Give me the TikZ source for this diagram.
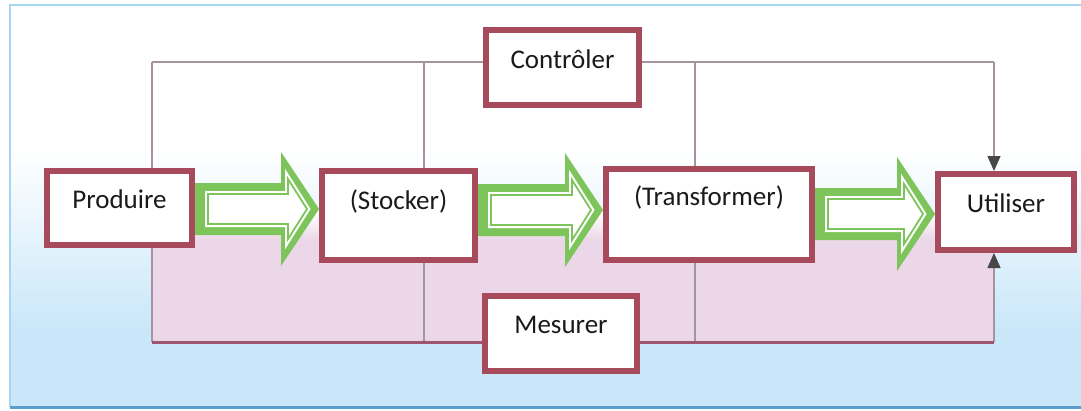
\documentclass[tikz,border=0pt]{standalone}
\usepackage{fontspec}
\setmainfont{Carlito}
\usepackage{tikz}
\usetikzlibrary{arrows.meta,calc}
\definecolor{boxred}{HTML}{A64A5C}
\definecolor{flowgreen}{HTML}{7DC45A}
\definecolor{pinkzone}{HTML}{EBD7E8}
\definecolor{pinkedge}{HTML}{9C5670}
\definecolor{wire}{HTML}{A5939F}
\definecolor{tipgray}{HTML}{474747}
\definecolor{framelight}{HTML}{A6D6EE}
\definecolor{framedark}{HTML}{5A9BD0}
\definecolor{skyblue}{HTML}{C9E7F9}
\definecolor{ink}{HTML}{1A1A1A}

\tikzset{
  box/.style={draw=boxred,line width=6pt,fill=white,text=ink,inner sep=0pt,
    font=\fontsize{27}{32}\selectfont,text height=18pt},
  wireline/.style={draw=wire,line width=1.3pt},
  feed/.style={wireline,-{Triangle[width=13pt,length=15pt,color=tipgray]}},
  flowcore/.style={draw=white,line width=6pt,
    postaction={fill=white,draw=none},
    postaction={draw=flowgreen,line width=1.8pt}}
}

% hollow block arrow between two boxes, centred on height #3
\newcommand{\flowarrow}[3]{%
  \fill[flowgreen] let \p1=(#1.east |- 0,#3), \p2=(#2.west |- 0,#3) in
    (\x1,\y1+26pt) -- (\x2-38pt,\y1+26pt) -- (\x2-38pt,\y1+57pt) -- (\x2,\y1)
    -- (\x2-38pt,\y1-57pt) -- (\x2-38pt,\y1-26pt) -- (\x1,\y1-26pt) -- cycle;
  \path[flowcore] let \p1=(#1.east |- 0,#3), \p2=(#2.west |- 0,#3) in
    (\x1+13pt,\y1+15pt) -- (\x2-31pt,\y1+15pt) -- (\x2-31pt,\y1+30pt) -- (\x2-12pt,\y1)
    -- (\x2-31pt,\y1-30pt) -- (\x2-31pt,\y1-15pt) -- (\x1+13pt,\y1-15pt) -- cycle;}

\begin{document}
\begin{tikzpicture}[x=1pt,y=-1pt]
  \useasboundingbox (0,0) rectangle (1081,410);
  \clip (0,0) rectangle (1081,410);
  % background panel
  \fill[white] (10,5) rectangle (1090,150);
  \shade[top color=white,bottom color=skyblue] (10,150) rectangle (1090,330);
  \fill[skyblue] (10,330) rectangle (1090,407);
  \draw[framelight,line width=1.5pt] (1090,5) -- (10,5) -- (10,407);
  \draw[framedark,line width=3pt] (10,407) -- (1090,407);
  \shade[top color=white,bottom color=pinkzone] (152,212) rectangle (994,240);
  \fill[pinkzone] (152,240) rectangle (994,342);

  \coordinate (tl) at (152,62);
  \coordinate (tr) at (994,62);
  \coordinate (bl) at (152,342);
  \coordinate (br) at (994,342);

  % boxes
  \node[box,minimum width=145pt,minimum height=74pt,text depth=18pt] (prod) at (119.5,208) {Produire};
  \node[box,minimum width=153pt,minimum height=89pt,text depth=31pt] (stock) at (398.5,215.5) {(Stocker)};
  \node[box,minimum width=206pt,minimum height=91pt,text depth=37pt] (trans) at (709,214.5) {(Transformer)};
  \node[box,minimum width=136pt,minimum height=76pt,text depth=18pt] (util) at (1006,212) {Utiliser};
  \node[box,minimum width=153pt,minimum height=75pt,text depth=17pt] (ctrl) at (562.5,67.5) {Contrôler};
  \node[box,minimum width=152pt,minimum height=75pt,text depth=19pt] (meas) at (561,333.5) {Mesurer};

  % control bus on top
  \draw[wireline] (tl -| ctrl.west) -- (tl);
  \draw[wireline] (ctrl.east |- tr) -- (tr);
  \foreach \x/\n in {152/prod,424/stock,695/trans}
    \draw[wireline] (\x,62) -- (\x,62 |- \n.north);
  \draw[feed] (tr) -- (tr |- util.north);

  % measurement bus below
  \foreach \x/\n in {152/prod,424/stock,695/trans}
    \draw[wireline] (\x,342) -- (\x,342 |- \n.south);
  \draw[feed] (br) -- (br |- util.south);
  \draw[pinkedge,line width=3pt] (bl) -- (bl -| meas.west);
  \draw[pinkedge,line width=3pt] (meas.east |- br) -- (br);

  % energy flow
  \flowarrow{prod}{stock}{209}
  \flowarrow{stock}{trans}{210}
  \flowarrow{trans}{util}{214}
\end{tikzpicture}
\end{document}
